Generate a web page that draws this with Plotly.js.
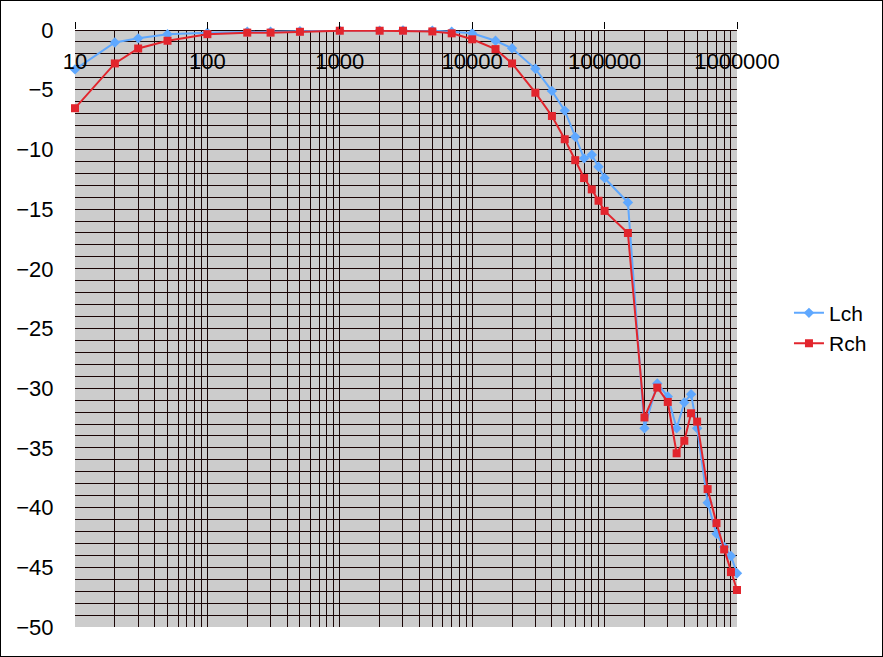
<!DOCTYPE html>
<html>
<head>
<meta charset="utf-8">
<script src="https://cdn.plot.ly/plotly-3.0.1.min.js"></script>
<style>
html,body{margin:0;padding:0;background:#fff;}
#wrap{position:relative;width:883px;height:657px;}
#chart{width:883px;height:657px;}
#frame{position:absolute;left:0;top:0;width:881px;height:655px;border:1px solid #000;pointer-events:none;}
</style>
</head>
<body>
<div id="wrap"><div id="chart"></div><div id="frame"></div></div>
<script>
const freq = [10,20,30,50,100,200,300,500,1000,2000,3000,5000,7000,10000,15000,20000,30000,40000,50000,60000,70000,80000,90000,100000,150000,200000,250000,300000,350000,400000,450000,500000,600000,700000,800000,900000,1000000];
const lch = [-3.3,-1.05,-0.7,-0.35,-0.22,-0.15,-0.15,-0.1,-0.05,-0.05,-0.03,-0.05,-0.15,-0.28,-0.9,-1.53,-3.25,-5.1,-6.75,-8.95,-10.75,-10.45,-11.45,-12.4,-14.45,-33.35,-29.6,-30.7,-33.35,-31.2,-30.5,-33.35,-39.6,-42.2,-43.3,-44.05,-45.5];
const rch = [-6.55,-2.8,-1.55,-0.9,-0.35,-0.22,-0.22,-0.15,-0.06,-0.06,-0.06,-0.12,-0.28,-0.78,-1.6,-2.8,-5.25,-7.2,-9.15,-10.9,-12.4,-13.35,-14.3,-15.15,-17.0,-32.45,-29.95,-31.15,-35.45,-34.4,-32.1,-32.8,-38.45,-41.3,-43.5,-45.4,-46.9];
const xTickVals = [10,100,1000,10000,100000,1000000];
const xTickText = ["10","100","1000","10000","100000","1000000"];
const seriesNames = ["Lch","Rch"];

const FONT = "Liberation Sans, Arial, sans-serif";
const GRID = "#1a0505";

const traces = [
  {x: freq, y: lch, name: seriesNames[0], type: "scatter", mode: "lines+markers",
   cliponaxis: false,
   line: {color: "#5fa8ff", width: 2},
   marker: {symbol: "diamond", size: 8, color: "#5fa8ff"}},
  {x: freq, y: rch, name: seriesNames[1], type: "scatter", mode: "lines+markers",
   cliponaxis: false,
   line: {color: "#e2252d", width: 2},
   marker: {symbol: "square", size: 8, color: "#e2252d"}}
];

const layout = {
  width: 883, height: 657,
  margin: {l: 75, r: 146, t: 30, b: 30, pad: 0, autoexpand: false},
  paper_bgcolor: "#ffffff",
  plot_bgcolor: "#cccccc",
  font: {family: FONT, size: 22, color: "#000"},
  showlegend: true,
  legend: {x: 1.0785, y: 0.56, xanchor: "left", yanchor: "top",
           bgcolor: "rgba(0,0,0,0)", font: {family: FONT, size: 21, color: "#000"},
           tracegroupgap: 0},
  xaxis: {
    type: "log", range: [1, 6], side: "top",
    tickmode: "array", tickvals: xTickVals, ticktext: xTickText,
    ticks: "outside", ticklen: 7, tickcolor: "#000", tickwidth: 1,
    ticklabelposition: "outside", ticklabelstandoff: -56,
    showgrid: true, gridcolor: GRID, gridwidth: 1,
    minor: {dtick: "D1", showgrid: true, gridcolor: GRID, gridwidth: 1, ticks: ""},
    showline: false, zeroline: false,
    tickfont: {family: FONT, size: 22, color: "#000"},
    fixedrange: true
  },
  yaxis: {
    range: [-50, 0], dtick: 5, tick0: 0,
    ticks: "outside", ticklen: 16, tickcolor: "rgba(0,0,0,0)",
    showgrid: true, gridcolor: GRID, gridwidth: 1,
    minor: {dtick: 1, showgrid: true, gridcolor: GRID, gridwidth: 1, ticks: ""},
    zeroline: true, zerolinecolor: GRID, zerolinewidth: 1,
    showline: false,
    tickfont: {family: FONT, size: 22, color: "#000"},
    fixedrange: true
  }
};

Plotly.newPlot("chart", traces, layout, {displayModeBar: false, staticPlot: true});
</script>
</body>
</html>
